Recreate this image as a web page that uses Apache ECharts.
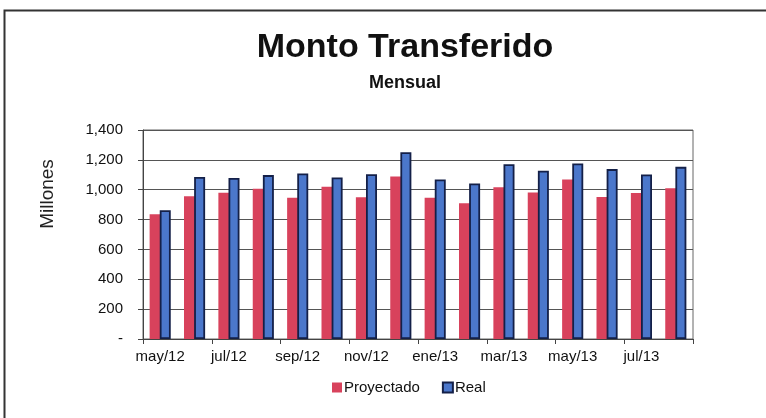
<!DOCTYPE html>
<html>
<head>
<meta charset="utf-8">
<script src="https://cdn.jsdelivr.net/npm/echarts@6/dist/echarts.min.js"></script>
<style>
  html, body { margin: 0; padding: 0; background: #fff; }
  #chart { width: 766px; height: 418px; }
</style>
</head>
<body>
<div id="chart"></div>
<script>
// Monthly transfer amounts (millions)
const months = ['may/12', 'jun/12', 'jul/12', 'ago/12', 'sep/12', 'oct/12', 'nov/12', 'dic/12',
                'ene/13', 'feb/13', 'mar/13', 'abr/13', 'may/13', 'jun/13', 'jul/13', 'ago/13'];
const proyectado = [835, 956, 980, 1007, 947, 1020, 949, 1089, 947, 909, 1016, 982, 1069, 951, 978, 1009];
const real = [862, 1085, 1078, 1098, 1109, 1082, 1104, 1251, 1069, 1042, 1171, 1127, 1176, 1138, 1102, 1153];
const yTicks = [0, 200, 400, 600, 800, 1000, 1200, 1400];

const FONT = '"Liberation Sans", Arial, sans-serif';

const chart = echarts.init(document.getElementById('chart'), null, { renderer: 'canvas' });

function fmt(v) {
  if (v === 0) return '-';
  return v.toLocaleString('en-US');
}

chart.setOption({
  animation: false,
  backgroundColor: '#ffffff',
  title: [
    {
      text: 'Monto Transferido',
      left: 405, top: 31,
      textAlign: 'center',
      textStyle: { fontFamily: FONT, fontSize: 34, fontWeight: 'bold', color: '#111' },
      padding: 0
    },
    {
      text: 'Mensual',
      left: 405, top: 74,
      textAlign: 'center',
      textStyle: { fontFamily: FONT, fontSize: 18, fontWeight: 'bold', color: '#111' },
      padding: 0
    }
  ],
  graphic: [
    {
      type: 'rect',
      shape: { x: 4.5, y: 10.5, width: 800, height: 500 },
      style: { fill: 'none', stroke: '#333', lineWidth: 2 },
      silent: true
    },
    {
      type: 'text',
      x: 48, y: 194,
      rotation: Math.PI / 2,
      style: {
        text: 'Millones',
        fontFamily: FONT, fontSize: 19, fill: '#222',
        textAlign: 'center', textVerticalAlign: 'middle'
      }
    }
  ],
  legend: {
    left: 327, top: 375,
    itemWidth: 10, itemHeight: 10, itemGap: 22,
    icon: 'rect',
    textStyle: { fontFamily: FONT, fontSize: 15, color: '#111', padding: [0, 0, 0, -3] },
    data: ['Proyectado', 'Real']
  },
  grid: {
    left: 143, right: 73, top: 130, bottom: 79,
    show: true, borderColor: '#666', borderWidth: 1, backgroundColor: 'transparent'
  },
  xAxis: {
    type: 'category',
    data: months,
    boundaryGap: true,
    axisLine: { show: true, lineStyle: { color: '#444', width: 1 } },
    axisTick: { show: true, interval: 1, length: 5, inside: false, lineStyle: { color: '#444' } },
    axisLabel: { interval: 1, fontFamily: FONT, fontSize: 15, color: '#111', margin: 10 }
  },
  yAxis: {
    type: 'value',
    min: yTicks[0], max: yTicks[yTicks.length - 1], interval: 200,
    axisLine: { show: true, lineStyle: { color: '#444', width: 1 } },
    axisTick: { show: true, length: 5, inside: false, lineStyle: { color: '#444' } },
    axisLabel: { fontFamily: FONT, fontSize: 15, color: '#111', margin: 20, formatter: fmt },
    splitLine: { show: true, lineStyle: { color: '#555', width: 1 } }
  },
  series: [
    {
      name: 'Proyectado',
      type: 'bar',
      data: proyectado,
      barWidth: 11,
      barGap: '-8%',
      itemStyle: { color: '#d8425c' }
    },
    {
      name: 'Real',
      type: 'bar',
      data: real,
      barWidth: 11,
      itemStyle: { color: '#4b77cb', borderColor: '#142048', borderWidth: 1.8 }
    }
  ]
});
</script>
</body>
</html>
